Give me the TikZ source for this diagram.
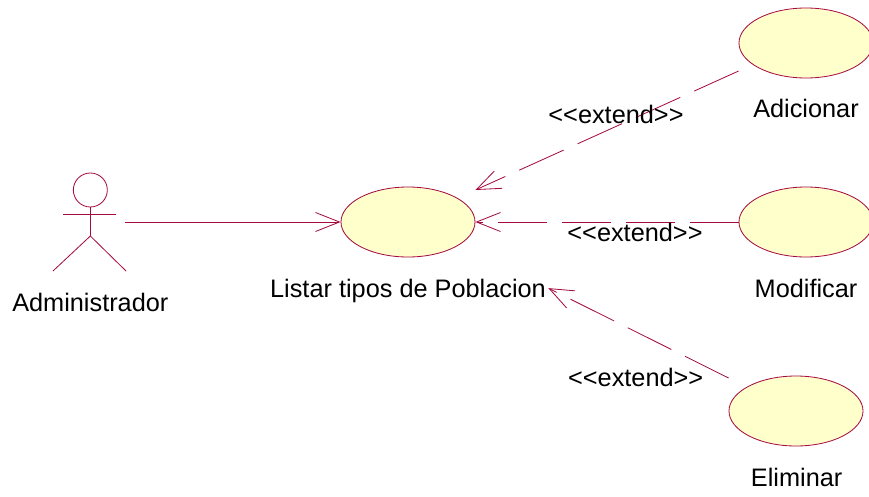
\documentclass[tikz,border=0pt]{standalone}
\usepackage{fontspec}
\setmainfont{Liberation Sans}
\usetikzlibrary{arrows.meta,shapes.geometric}
\definecolor{umlline}{RGB}{165,10,65}
\definecolor{umlfill}{RGB}{255,255,203}
\tikzset{
    usecase/.style={draw=umlline, fill=umlfill, ellipse, minimum width=4.02cm, minimum height=2.1cm, inner sep=0pt},
    extendline/.style={dash pattern=on 1.46cm off 0.46cm},
    umllabel/.style={anchor=base, inner sep=0pt, text=black, font=\fontsize{21.6}{26}\selectfont}
}
\begin{document}
\begin{tikzpicture}[>={Straight Barb[length=0.72cm,width=0.57cm]}, line width=0.7pt, umlline]

    \useasboundingbox (0,0) rectangle (26.07,14.88);

    % Use cases
    \node[usecase] (listar) at (12.24,8.22) {};
    \node[usecase] (adicionar) at (24.18,13.59) {};
    \node[usecase] (modificar) at (24.18,8.22) {};
    \node[usecase] (eliminar) at (23.88,2.55) {};

    % Actor
    \node[draw, circle, minimum size=1.02cm, inner sep=0pt] (head) at (2.71,9.18) {};
    \coordinate (hip) at (2.71,7.8);
    \coordinate (armL) at (1.89,8.46);
    \coordinate (armR) at (3.48,8.46);
    \coordinate (footL) at (1.59,6.75);
    \coordinate (footR) at (3.78,6.75);
    \coordinate (admin) at (3.75,8.22);
    \draw (head.south) -- (hip);
    \draw (armL) -- (armR);
    \draw (footL) -- (hip) -- (footR);

    % Labels under the shapes
    \node[umllabel] (administrador) at (2.71,5.55) {Administrador};
    \node[umllabel] (listarText) at (12.24,5.97) {Listar tipos de Poblacion};
    \node[umllabel] (adicionarText) at (24.18,11.37) {Adicionar};
    \node[umllabel] (modificarText) at (24.18,5.97) {Modificar};
    \node[umllabel] (eliminarText) at (23.9,0.3) {Eliminar};

    % Association from the actor
    \draw[->] (admin) -- (listar.west);

    % Dashed extend edges
    \draw[->, extendline] ([yshift=-0.84cm]adicionar.west) -- ([yshift=0.96cm]listar.east);
    \draw[->, extendline] (modificar.west) -- (listar.east);
    \draw[->, extendline] ([yshift=0.99cm]eliminar.west) -- ([xshift=0.06cm,yshift=0.07cm]listarText.east);

    % Edge labels
    \node[umllabel] (extendA) at (18.48,11.19) {<{}<extend>{}>};
    \node[umllabel] (extendB) at (19.05,7.65) {<{}<extend>{}>};
    \node[umllabel] (extendC) at (19.07,3.3) {<{}<extend>{}>};

\end{tikzpicture}
\end{document}
